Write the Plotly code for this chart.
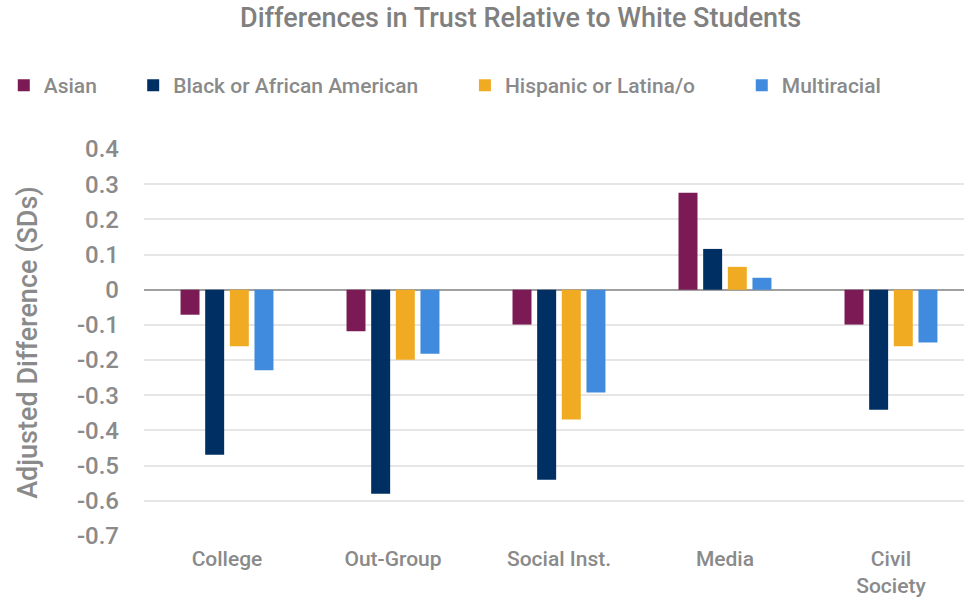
import plotly.graph_objects as go

categories = ["College", "Out-Group", "Social Inst.", "Media", "Civil<br>Society"]
series_names = ["Asian", "Black or African American", "Hispanic or Latina/o", "Multiracial"]
asian = [-0.071, -0.118, -0.099, 0.276, -0.099]
black = [-0.469, -0.580, -0.540, 0.116, -0.341]
hispanic = [-0.161, -0.199, -0.369, 0.065, -0.161]
multiracial = [-0.229, -0.182, -0.292, 0.034, -0.150]
colors = ["#7B1A55", "#002F63", "#F0AB23", "#418BDE"]
y_ticks = [0.4, 0.3, 0.2, 0.1, 0, -0.1, -0.2, -0.3, -0.4, -0.5, -0.6, -0.7]
y_labels = ["0.4", "0.3", "0.2", "0.1", "0", "-0.1", "-0.2", "-0.3", "-0.4", "-0.5", "-0.6", "-0.7"]

NB = "\u00a0"
pads = [6, 8, 8, 0]

fig = go.Figure()
for name, vals, col, p in zip(series_names, [asian, black, hispanic, multiracial], colors, pads):
    fig.add_trace(go.Bar(x=categories, y=vals, name=name + NB * p, marker_color=col,
                         marker_line_width=0))

gray = "#8a8a8a"
fig.update_layout(
    width=964, height=598,
    paper_bgcolor="white", plot_bgcolor="white",
    font=dict(family="Roboto", color=gray, weight=500),
    title=dict(text="Differences in Trust Relative to White Students",
               x=0.54, xanchor="center", y=0.97, yanchor="middle",
               font=dict(size=27, color="#808080", weight=500)),
    barmode="group", bargap=0.406, bargroupgap=0.23,
    margin=dict(l=144, r=0, t=149, b=62),
    legend=dict(orientation="h", x=-0.171, xanchor="left", y=1.164, yanchor="middle",
                font=dict(size=21, color=gray, weight=500), itemwidth=30, traceorder="normal"),
    showlegend=True,
)
fig.update_xaxes(range=[-0.5, 4.44], showgrid=False, showline=False, ticks="",
                 tickfont=dict(size=21, color=gray, weight=500), ticklabelstandoff=8,
                 automargin=False)
fig.update_yaxes(range=[-0.7, 0.4], tickvals=y_ticks, ticktext=y_labels,
                 showgrid=True, gridcolor="#e6e6e6", gridwidth=1.5,
                 zeroline=True, zerolinecolor="#a0a0a0", zerolinewidth=2,
                 tickfont=dict(size=24, color=gray, weight=500), ticklabelstandoff=24,
                 automargin=False,
                 title=dict(text="Adjusted Difference (SDs)", font=dict(size=27, color=gray, weight=500),
                            standoff=31))

fig.write_html("out.html")
